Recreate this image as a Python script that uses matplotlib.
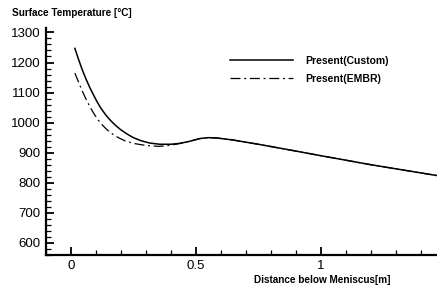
import numpy as np
from matplotlib import pyplot as plt
from matplotlib.ticker import MultipleLocator

# distance below meniscus [m] and surface temperature [C]
x_custom = [0.016, 0.03, 0.045, 0.06, 0.075, 0.09, 0.105, 0.12, 0.14, 0.16,
            0.18, 0.2, 0.225, 0.25, 0.28, 0.316, 0.356, 0.40, 0.436, 0.476,
            0.516, 0.55, 0.583, 0.65, 0.75, 0.85, 1.0, 1.2, 1.464]
t_custom = [1247, 1212, 1177, 1146, 1118, 1093, 1069, 1048, 1025, 1006,
            990, 976, 962, 950, 940, 932, 928, 928, 931, 938,
            947, 950, 949, 942, 928, 913, 890, 860, 824]

x_embr = [0.016, 0.03, 0.045, 0.063, 0.08, 0.095, 0.11, 0.125, 0.14, 0.155,
          0.17, 0.19, 0.215, 0.25, 0.285, 0.316, 0.35, 0.383, 0.42, 0.45,
          0.476, 0.516, 0.55, 0.583, 0.65, 0.75, 0.85, 1.0, 1.2, 1.464]
t_embr = [1165, 1136, 1106, 1074, 1047, 1026, 1008, 993, 980, 969,
          960, 950, 940, 931, 926, 923, 921, 923, 928, 933,
          938, 947, 950, 949, 942, 928, 913, 890, 860, 824]

plt.rcParams['font.family'] = ['Liberation Sans', 'DejaVu Sans']

fig = plt.figure(figsize=(4.37, 2.88), dpi=100)
ax = fig.add_axes([0.105, 0.115, 0.895, 0.788])

ax.plot(x_custom, t_custom, '-', color='black', linewidth=1.1, label='Present(Custom)')
ax.plot(x_embr, t_embr, color='black', linewidth=0.9, linestyle=(0, (8, 3, 1.5, 3)),
        label='Present(EMBR)')

ax.set_xlim(-0.1, 1.465)
ax.set_ylim(560, 1315)
ax.xaxis.set_major_locator(MultipleLocator(0.5))
ax.xaxis.set_minor_locator(MultipleLocator(0.1))
ax.yaxis.set_major_locator(MultipleLocator(100))
ax.yaxis.set_minor_locator(MultipleLocator(20))
ax.set_xticks([0, 0.5, 1])
ax.set_xticklabels(['0', '0.5', '1'])

for s in ['top', 'right']:
    ax.spines[s].set_visible(False)
for s in ['left', 'bottom']:
    ax.spines[s].set_linewidth(1.6)

ax.tick_params(which='major', direction='in', length=6, width=1.3, labelsize=9.5, pad=4)
ax.tick_params(which='minor', direction='in', length=3.5, width=0.9)

fig.text(12 / 437, 1 - 13 / 288, 'Surface Temperature [°C]', fontsize=7.2,
         fontweight='bold', va='center', ha='left')
fig.text(322 / 437, 1 - 280 / 288, 'Distance below Meniscus[m]', fontsize=7.2,
         fontweight='bold', va='center', ha='center')

ax.legend(loc='upper left', bbox_to_anchor=(230 / 437, 1 - 56 / 288),
          bbox_transform=fig.transFigure, frameon=False,
          prop={'size': 7.5, 'weight': 'bold'}, handlelength=6,
          handletextpad=1.2, labelspacing=0.75, borderpad=0, borderaxespad=0)

fig.savefig('out.png', dpi=100)
